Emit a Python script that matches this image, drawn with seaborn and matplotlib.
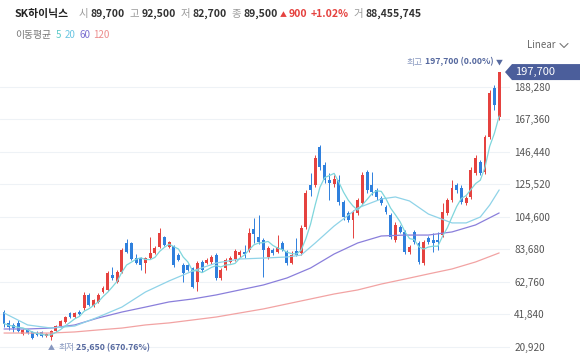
import numpy as np
import pandas as pd
import matplotlib
matplotlib.use('Agg')
import matplotlib.pyplot as plt
from matplotlib.lines import Line2D
from matplotlib.patches import Polygon
from matplotlib.transforms import IdentityTransform
import seaborn as sns

# daily candles (won), oldest first
opens = [43400, 36300, 35000, 36300, 29200, 31800, 30500, 30200, 30500, 28000,
         27300, 31200, 34400, 37000, 42800, 40200, 43400, 46000, 54400, 47300,
         49900, 56300, 57600, 67200, 62700, 69100, 87800, 87800, 78100, 78100,
         74900, 78100, 81400, 85200, 91600, 85200, 85900, 80100, 73600, 73600,
         71700, 62700, 75600, 74900, 75600, 80100, 65300, 71700, 75600, 77500,
         80100, 82000, 83300, 96800, 91600, 89700, 78800, 83300, 82000, 87800,
         82000, 75000, 82600, 81400, 98100, 125100, 125100, 149500, 137900, 128300,
         125700, 128300, 114200, 107100, 102600, 107100, 113500, 133400, 125100, 121900,
         116700, 110900, 105800, 89700, 98100, 94900, 82000, 94900, 87800, 74900,
         91000, 89700, 89700, 92900, 107100, 115400, 125100, 123200, 113500, 117400,
         132800, 139900, 133400, 156000, 187500, 168800]
highs = [44700, 38300, 36200, 38300, 32400, 32400, 31200, 31000, 31200, 29900,
         31800, 35000, 38300, 41000, 43700, 43700, 44700, 56000, 55500, 52000,
         55500, 60000, 69500, 72400, 70400, 84600, 90400, 88400, 80700, 78800,
         78800, 91600, 85900, 97400, 92300, 89000, 86500, 81400, 74900, 74300,
         72400, 76000, 77000, 78000, 80000, 81400, 71700, 78000, 79400, 83900,
         83300, 86500, 97400, 103900, 105800, 91000, 86000, 84600, 92900, 89000,
         83300, 82600, 91000, 99400, 121900, 132800, 144400, 150800, 139900, 132800,
         131500, 131500, 115400, 108400, 109000, 116700, 133400, 134700, 133400, 123200,
         118000, 112200, 107100, 101300, 99400, 96200, 86500, 96200, 89000, 89700,
         92300, 94200, 94900, 113500, 116700, 128300, 126400, 125100, 118000, 136700,
         144400, 141200, 157300, 186200, 189400, 197700]
lows = [34000, 31800, 30500, 30500, 28600, 29200, 26000, 28000, 27500, 27300,
        25650, 30500, 33800, 36300, 39500, 39600, 41500, 45000, 47000, 46500,
        49000, 55500, 57000, 64000, 62000, 68500, 81400, 76900, 74300, 70400,
        68500, 77500, 80700, 84600, 85900, 84600, 72400, 76200, 62700, 69800,
        58900, 56900, 69000, 74000, 74500, 64000, 64000, 70400, 74900, 76200,
        78800, 78100, 82000, 87800, 87000, 65900, 77500, 80000, 81400, 82600,
        73600, 74300, 79400, 80100, 97000, 118000, 123800, 134700, 126400, 115400,
        124000, 112000, 102600, 101300, 91000, 105800, 112200, 119900, 118700, 115400,
        112200, 106400, 90400, 88400, 94000, 80700, 80700, 87200, 74300, 73600,
        87200, 82000, 83300, 91600, 105800, 114200, 119900, 113000, 112200, 116000,
        131500, 131500, 132100, 154700, 173300, 167000]
closes = [36000, 33800, 33200, 31200, 31800, 29900, 26700, 28600, 28300, 29200,
          31200, 34400, 37600, 40200, 40200, 42800, 42100, 54400, 47900, 51100,
          54400, 58900, 68500, 65300, 69100, 83300, 82000, 77500, 74900, 73600,
          78100, 81400, 84600, 94200, 86500, 88400, 73600, 76900, 68500, 70400,
          59500, 74900, 70400, 76900, 78800, 65300, 70400, 76900, 78100, 82600,
          82000, 80700, 94200, 93600, 88400, 83300, 84600, 81400, 85200, 83300,
          74900, 80000, 80100, 97400, 119900, 121900, 142400, 136700, 128300, 126400,
          129000, 114200, 104500, 102600, 107700, 115400, 131500, 121900, 120600, 117400,
          113500, 107700, 91600, 99400, 94900, 82000, 85200, 88400, 75600, 88400,
          88400, 87800, 88400, 107700, 115400, 123200, 121900, 114200, 116700, 134700,
          142400, 132800, 156000, 184200, 176500, 197700]

# longer moving averages
ma20_idx = [0, 5, 10, 15, 20, 25, 30, 35, 40, 45, 50, 55, 60, 63, 66, 70, 75, 80,
            83, 86, 90, 95, 98, 101, 103, 105]
ma20 = [42800, 35100, 33100, 34400, 40200, 46600, 56300, 63400, 69800, 74900, 77500,
        78100, 78800, 80000, 87800, 98700, 110300, 116100, 117400, 114800, 106400,
        100700, 100700, 104500, 112200, 121900]
ma_idx = list(range(0, 106, 5))
ma60 = [32500, 32500, 33100, 35100, 39600, 43400, 46600, 49900, 51800, 54400, 57600,
        60800, 65300, 71700, 80700, 87800, 92300, 92900, 92900, 94900, 99400, 107100]
ma120 = [29900, 29900, 29900, 30600, 31900, 33100, 35100, 36400, 38300, 40200, 42800,
         45400, 48600, 51800, 55000, 57600, 61400, 64600, 67900, 71100, 75600, 81400]

y_ticks = [20920 * k for k in range(1, 10)]

RED = '#e5423f'
BLUE = '#2f80dd'
C5, C20, C60, C120 = '#7fd6dc', '#8fd3e8', '#8a7fdb', '#f2a3a3'

sns.set_theme(style='white')
plt.rcParams['font.family'] = ['Noto Sans CJK KR', 'DejaVu Sans']

fig = plt.figure(figsize=(5.8, 3.6), dpi=100)
ax = fig.add_axes([0, 0, 510 / 580, 300 / 360])

df = pd.DataFrame({'o': opens, 'h': highs, 'l': lows, 'c': closes})
df['i'] = np.arange(len(df))
df['col'] = np.where(df['c'] >= df['o'], RED, BLUE)
body = np.maximum((df['c'] - df['o']).abs(), 500)

ax.vlines(df['i'], df['l'], df['h'], colors=df['col'], lw=0.7, zorder=2)
ax.bar(df['i'], body, bottom=df[['o', 'c']].min(axis=1), width=0.62,
       color=df['col'], linewidth=0, zorder=2)

m20 = pd.DataFrame({'i': ma20_idx, 'v': ma20})
ma = pd.DataFrame({'i': ma_idx, 'm60': ma60, 'm120': ma120})
df['m5'] = df['c'].rolling(5, min_periods=1).mean()
sns.lineplot(data=ma, x='i', y='m120', ax=ax, color=C120, lw=0.9, zorder=3)
sns.lineplot(data=ma, x='i', y='m60', ax=ax, color=C60, lw=0.9, zorder=3)
sns.lineplot(data=m20, x='i', y='v', ax=ax, color=C20, lw=0.9, zorder=3)
sns.lineplot(data=df, x='i', y='m5', ax=ax, color=C5, lw=0.9, zorder=3)

ax.set_xlim(-0.85, 107.3)
ax.set_ylim(12560, 205460)
ax.set_xticks([])
ax.set_yticks(y_ticks)
ax.set_yticklabels([f'{v:,}' for v in y_ticks])
ax.yaxis.tick_right()
ax.tick_params(axis='y', length=0, pad=3, labelsize=7.2, labelcolor='#555555')
ax.set_xlabel('')
ax.set_ylabel('')
ax.grid(axis='y', color='#eef2f6', lw=0.8)
ax.grid(axis='x', visible=False)
for s in ax.spines.values():
    s.set_visible(False)

# high / low markers
imax = int(np.argmax(highs))
imin = int(np.argmin(lows))
hi = ax.annotate('▼', xy=(imax, highs[imax]), xytext=(0, 4), textcoords='offset points',
                 ha='center', va='bottom', fontsize=5, color='#56699f', annotation_clip=False)
t1 = ax.annotate(f'{highs[imax]:,} (0.00%)', xy=(0, 0), xycoords=hi, xytext=(-1.5, 0),
                 textcoords='offset points', ha='right', va='bottom', fontsize=6.3,
                 fontweight='bold', color='#56699f', annotation_clip=False)
ax.annotate('최고', xy=(0, 0), xycoords=t1, xytext=(-1.5, 0), textcoords='offset points',
            ha='right', va='bottom', fontsize=6.3, color='#8797bf', annotation_clip=False)

lo = ax.annotate('▲', xy=(imin, lows[imin]), xytext=(0, -3), textcoords='offset points',
                 ha='center', va='top', fontsize=5, color='#8797bf', annotation_clip=False)
t2 = ax.annotate('최저', xy=(1, 0), xycoords=lo, xytext=(2.5, 0), textcoords='offset points',
                 ha='left', va='bottom', fontsize=6.3, color='#8797bf', annotation_clip=False)
ax.annotate(f'{lows[imin]:,} (670.76%)', xy=(1, 0), xycoords=t2, xytext=(1.5, 0),
            textcoords='offset points', ha='left', va='bottom', fontsize=6.3,
            fontweight='bold', color='#56699f', annotation_clip=False)

# last price tag
fig.canvas.draw()
yc = ax.transData.transform((0, closes[-1]))[1]
tag = Polygon([(505, yc), (512, yc + 8), (580, yc + 8), (580, yc - 8), (512, yc - 8)],
              closed=True, transform=IdentityTransform(), fc='#4b5e9b', ec='none', zorder=6)
fig.add_artist(tag)
fig.text(515 / 580, yc / 360, f'{closes[-1]:,}', va='center', ha='left', color='white',
         fontsize=8, zorder=7)


def chain(items, x_px, y_px, size):
    prev = None
    for text, color, weight, gap, fs in items:
        fs = fs or size
        if prev is None:
            prev = fig.text(x_px / 580, 1 - y_px / 360, text, color=color, fontsize=fs,
                            fontweight=weight, va='bottom', ha='left')
        else:
            prev = ax.annotate(text, xy=(1, 0), xycoords=prev, xytext=(gap, 0),
                               textcoords='offset points', color=color, fontsize=fs,
                               fontweight=weight, va='bottom', ha='left',
                               annotation_clip=False)


GR = '#9a9a9a'
DK = '#333333'
chain([('SK하이닉스', '#222222', 'bold', 0, 7.8),
       ('시', GR, 'normal', 7, None), ('89,700', DK, 'bold', 1.5, None),
       ('고', GR, 'normal', 3.5, None), ('92,500', DK, 'bold', 1.5, None),
       ('저', GR, 'normal', 3.5, None), ('82,700', DK, 'bold', 1.5, None),
       ('종', GR, 'normal', 3.5, None), ('89,500', DK, 'bold', 1.5, None),
       ('▲', RED, 'normal', 1.5, 5), ('900', RED, 'bold', 1.5, None),
       ('+1.02%', RED, 'bold', 2.5, None),
       ('거', GR, 'normal', 3.5, None), ('88,455,745', DK, 'bold', 1.5, None)],
      15, 19, 7.5)

chain([('이동평균', '#777777', 'normal', 0, None),
       ('5', '#5ccac8', 'normal', 3.5, None), ('20', '#6cc6e2', 'normal', 2.5, None),
       ('60', '#7b6fd0', 'normal', 2.5, None), ('120', '#ec8c8c', 'normal', 2.5, None)],
      15, 40, 7)

fig.text(527 / 580, 1 - 45 / 360, 'Linear', color='#666666', fontsize=7, va='center', ha='left')
fig.add_artist(Line2D([560 / 580, 564 / 580, 568 / 580],
                      [1 - 43.5 / 360, 1 - 47.5 / 360, 1 - 43.5 / 360],
                      transform=fig.transFigure, color='#777777', lw=0.8))

fig.savefig('out.png', dpi=100)
